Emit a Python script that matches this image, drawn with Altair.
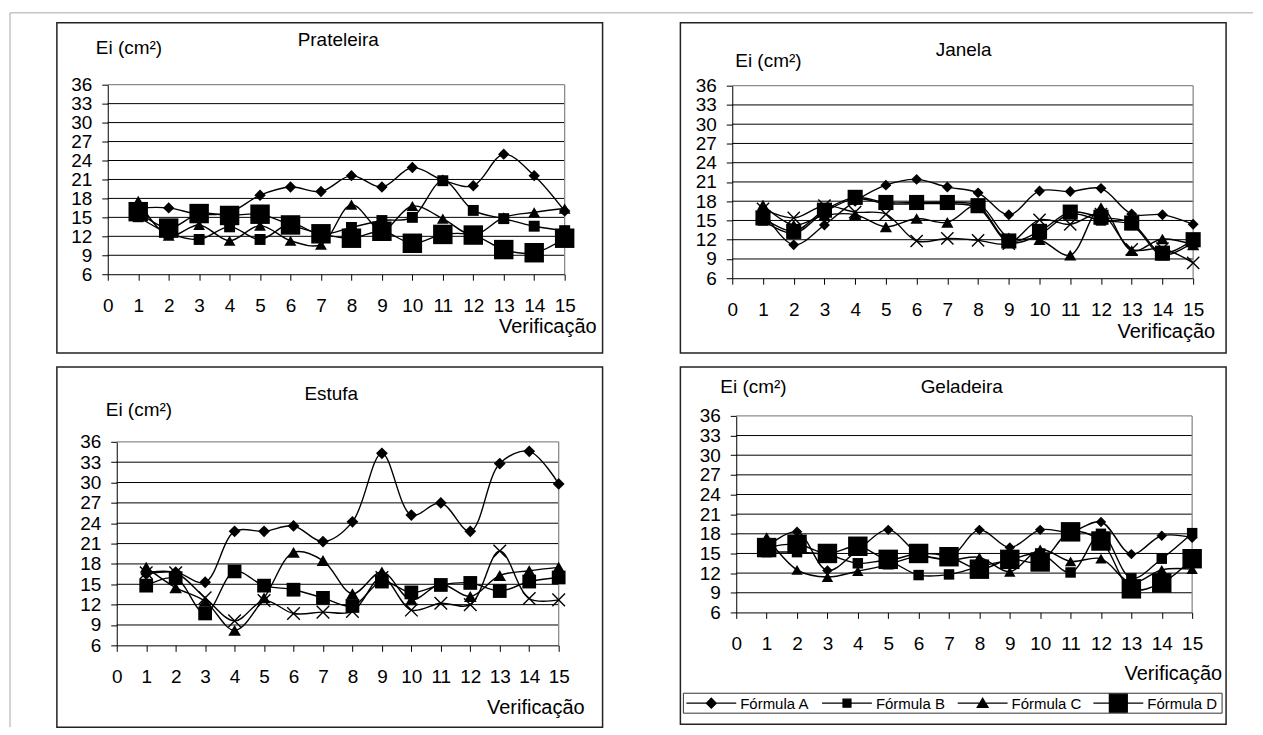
import altair as alt
import pandas as pd

FONT = "Liberation Sans"

# ---------------- data ----------------
verificacoes = list(range(1, 16))
x_ticks = list(range(0, 16))
y_ticks = list(range(6, 37, 3))
grid_levels = list(range(9, 34, 3))
formulas = ["Fórmula A", "Fórmula B", "Fórmula C", "Fórmula D"]
panel_titles = ["Prateleira", "Janela", "Estufa", "Geladeira"]
y_title = "Ei (cm²)"
x_title = "Verificação"

prateleira_A = [16.5, 16.5, 15.5, 15.8, 18.5, 19.8, 19.1, 21.6, 19.8, 22.9, 20.9, 20.0, 25.0, 21.6, 16.0]
prateleira_B = [15.1, 12.5, 11.5, 13.5, 11.5, 14.0, 12.3, 13.4, 14.5, 15.0, 20.8, 16.1, 14.8, 13.6, 12.9]
prateleira_C = [17.6, 12.1, 13.8, 11.3, 13.7, 11.3, 10.7, 17.0, 13.0, 16.8, 14.8, 12.2, 15.0, 15.8, 16.4]
prateleira_D = [15.9, 13.3, 15.6, 15.3, 15.5, 13.8, 12.4, 11.7, 12.8, 10.9, 12.3, 12.2, 9.9, 9.4, 11.7]

janela_A = [16.5, 11.2, 14.3, 18.0, 20.5, 21.4, 20.2, 19.3, 15.9, 19.6, 19.5, 20.0, 16.0, 15.9, 14.4]
janela_B = [15.0, 13.0, 16.3, 18.4, 17.6, 17.6, 17.6, 17.0, 11.6, 12.8, 16.0, 15.0, 14.3, 9.6, 11.6]
janela_C = [17.4, 14.3, 15.8, 15.9, 14.0, 15.3, 14.7, 17.4, 12.3, 12.0, 9.6, 17.0, 10.3, 12.1, 11.2]
janela_X = [16.8, 15.4, 17.3, 16.3, 16.0, 11.8, 12.2, 11.9, 11.4, 15.1, 14.4, 16.0, 10.5, 10.6, 8.4]
janela_D = [15.4, 13.3, 16.6, 18.6, 17.8, 17.8, 17.8, 17.3, 11.8, 13.3, 16.3, 15.5, 14.6, 9.9, 12.0]

estufa_A = [16.5, 16.8, 15.3, 22.8, 22.8, 23.6, 21.3, 24.2, 34.3, 25.2, 27.0, 22.8, 32.8, 34.6, 29.8]
estufa_B = [14.8, 15.9, 10.7, 16.9, 14.8, 14.2, 13.0, 11.8, 15.4, 13.8, 14.9, 15.2, 14.0, 15.4, 16.0]
estufa_C = [17.5, 14.5, 12.5, 8.2, 13.0, 19.7, 18.5, 13.6, 16.8, 12.7, 15.0, 13.2, 16.3, 17.0, 17.5]
estufa_X = [16.7, 16.7, 13.0, 9.6, 12.6, 10.7, 10.9, 11.0, 16.0, 11.2, 12.2, 12.0, 19.9, 12.9, 12.7]

geladeira_A = [16.0, 18.3, 12.4, 15.5, 18.6, 15.0, 14.3, 18.6, 15.9, 18.6, 18.3, 19.8, 14.9, 17.7, 17.4]
geladeira_B = [15.2, 15.2, 14.8, 13.5, 13.8, 11.7, 11.8, 13.0, 14.0, 15.0, 12.1, 18.0, 11.2, 14.2, 18.1]
geladeira_C = [17.5, 12.5, 11.4, 12.3, 13.3, 14.6, 14.0, 14.4, 12.2, 15.6, 13.8, 14.2, 10.5, 12.5, 12.6]
geladeira_D = [15.9, 16.4, 15.0, 16.1, 14.1, 15.0, 14.5, 12.6, 14.1, 13.7, 18.3, 16.9, 9.6, 10.5, 14.2]

# ---------------- styles / layout ----------------
SHAPES = {
    "A": "diamond",
    "B": "square",
    "C": "triangle-up",
    "X": "M-1,-1L1,1M-1,1L1,-1",
    "D": "square",
}
LEGEND_PATHS = [
    "M-1,0L1,0M0,-0.2L0.2,0L0,0.2L-0.2,0Z",
    "M-1,0L1,0M-0.16,-0.16L0.16,-0.16L0.16,0.16L-0.16,0.16Z",
    "M-1,0L1,0M0,-0.2L0.22,0.17L-0.22,0.17Z",
    "M-1,0L1,0M-0.36,-0.36L0.36,-0.36L0.36,0.36L-0.36,0.36Z",
]

layouts = [
    dict(w=547, h=331, x0=51, x15=509, y6=252, y36=62, title=(282, 17), ei=(39, 25), ver=(541, 305),
         sizes={"A": 130, "B": 120, "C": 140, "D": 380}),
    dict(w=547, h=331, x0=52, x15=514, y6=256, y36=63, title=(284, 27), ei=(55, 38), ver=(536, 310),
         sizes={"A": 120, "B": 110, "C": 150, "X": 150, "D": 230}),
    dict(w=547, h=361, x0=60, x15=503, y6=279, y36=75, title=(275, 27), ei=(49, 43), ver=(529, 342),
         sizes={"A": 140, "B": 190, "C": 160, "X": 160}),
    dict(w=547, h=358, x0=56, x15=513, y6=246, y36=49, title=(282, 20), ei=(40, 20), ver=(543, 308),
         sizes={"A": 110, "B": 110, "C": 130, "D": 380}),
]
LEG_BOX = (3, 543, 327, 347)
LEG_CENTERS = (31, 439)   # pixel range for first/last legend symbol centre
LEG_SYM = 2500

panel_series = [
    {"A": prateleira_A, "B": prateleira_B, "C": prateleira_C, "D": prateleira_D},
    {"A": janela_A, "B": janela_B, "C": janela_C, "X": janela_X, "D": janela_D},
    {"A": estufa_A, "B": estufa_B, "C": estufa_C, "X": estufa_X},
    {"A": geladeira_A, "B": geladeira_B, "C": geladeira_C, "D": geladeira_D},
]


def text_layer(txt, pos, size, align="center"):
    return alt.Chart(pd.DataFrame({"t": [txt]})).mark_text(
        font=FONT, fontSize=size, align=align, baseline="middle", color="black"
    ).encode(text="t:N", x=alt.value(pos[0]), y=alt.value(pos[1]))


def make_panel(i, legend=False, frame=False):
    lay = layouts[i]
    series = panel_series[i]
    recs = []
    for key, vals in series.items():
        for v, e in zip(verificacoes, vals):
            recs.append({"v": v, "ei": e, "serie": key})
    df = pd.DataFrame(recs)

    xs = alt.Scale(domain=[x_ticks[0], x_ticks[-1]], range=[lay["x0"], lay["x15"]], nice=False, zero=False)
    ys = alt.Scale(domain=[y_ticks[0], y_ticks[-1]], range=[lay["y6"], lay["y36"]], nice=False, zero=False)
    xaxis = alt.Axis(values=x_ticks, title=None, orient="bottom", offset=lay["y6"] - lay["h"], grid=False,
                     tickSize=6, labelPadding=16, labelFontSize=19, labelFont=FONT, labelColor="black",
                     domainColor="black", tickColor="black", labelFlush=False, labelOverlap=False, format="d")
    yaxis = alt.Axis(values=y_ticks, title=None, orient="left", offset=-lay["x0"], grid=False,
                     tickSize=6, labelPadding=10, labelFontSize=19, labelFont=FONT, labelColor="black",
                     domainColor="black", tickColor="black", labelFlush=False, labelOverlap=False, format="d")

    def X(f):
        return alt.X(f, type="quantitative", scale=xs, axis=xaxis)

    def Y(f):
        return alt.Y(f, type="quantitative", scale=ys, axis=yaxis)

    grid_df = pd.DataFrame({"g": grid_levels, "a": x_ticks[0], "b": x_ticks[-1]})
    grid = alt.Chart(grid_df).mark_rule(color="black", strokeWidth=1).encode(
        x=X("a"), x2=alt.X2("b"), y=Y("g"))

    border_df = pd.DataFrame({
        "a": [x_ticks[0], x_ticks[-1]], "b": [x_ticks[-1], x_ticks[-1]],
        "c": [y_ticks[-1], y_ticks[0]], "d": [y_ticks[-1], y_ticks[-1]],
    })
    border = alt.Chart(border_df).mark_rule(color="#8c8c8c", strokeWidth=1.3).encode(
        x=X("a"), x2=alt.X2("b"), y=Y("c"), y2=alt.Y2("d"))

    lines = alt.Chart(df).mark_line(interpolate="catmull-rom", color="black", strokeWidth=1.4).encode(
        x=X("v"), y=Y("ei"), detail="serie:N")

    one = pd.DataFrame({"k": [0]})
    layers = []
    if frame:
        layers.append(alt.Chart(one).mark_rule(color="#a8a8a8", strokeWidth=1).encode(
            x=alt.value(-47), x2=alt.value(1199), y=alt.value(-10)))
        layers.append(alt.Chart(one).mark_rule(color="#a8a8a8", strokeWidth=1).encode(
            x=alt.value(-47), y=alt.value(-10), y2=alt.value(706)))
    layers += [grid, border, lines]

    for key in ["A", "B", "C", "X", "D"]:
        if key not in series:
            continue
        if key == "X":
            mk = alt.Chart(df).transform_filter(alt.datum.serie == key).mark_point(
                shape=SHAPES[key], size=lay["sizes"][key], filled=False, stroke="black",
                strokeWidth=1.4, opacity=1)
        else:
            mk = alt.Chart(df).transform_filter(alt.datum.serie == key).mark_point(
                shape=SHAPES[key], size=lay["sizes"][key], filled=True, color="black", opacity=1)
        layers.append(mk.encode(x=X("v"), y=Y("ei")))

    layers.append(text_layer(panel_titles[i], lay["title"], 19))
    layers.append(text_layer(y_title, lay["ei"], 19, align="left"))
    layers.append(text_layer(x_title, lay["ver"], 20, align="right"))

    if legend:
        bx0, bx1, by0, by1 = LEG_BOX
        layers.append(alt.Chart(one).mark_rect(fill="white", stroke="#333333", strokeWidth=1).encode(
            x=alt.value(bx0), x2=alt.value(bx1), y=alt.value(by0), y2=alt.value(by1)))

    main = alt.layer(*layers)
    if not legend:
        return main.properties(width=lay["w"], height=lay["h"])

    bx0, bx1, by0, by1 = LEG_BOX
    cy = (by0 + by1) / 2
    leg_df = pd.DataFrame({"serie": formulas, "k": list(range(len(formulas)))})
    kx = alt.X("k:Q", scale=alt.Scale(domain=[0, len(formulas) - 1], range=list(LEG_CENTERS), nice=False, zero=False),
               axis=None)
    leg_sym = alt.Chart(leg_df).mark_point(
        filled=False, fill="black", fillOpacity=1, stroke="black", strokeWidth=1.2, opacity=1, size=LEG_SYM
    ).encode(
        x=kx, y=alt.value(cy),
        shape=alt.Shape("serie:N", scale=alt.Scale(domain=formulas, range=LEGEND_PATHS), legend=None),
    )
    leg_txt = alt.Chart(leg_df).mark_text(
        font=FONT, fontSize=15, align="left", baseline="middle", color="black", dx=29
    ).encode(x=kx, y=alt.value(cy + 0.5), text="serie:N")
    legend_layer = alt.layer(leg_sym, leg_txt)
    return alt.layer(main, legend_layer).resolve_scale(x="independent").properties(
        width=lay["w"], height=lay["h"])


p1 = make_panel(0, frame=True)
p2 = make_panel(1)
p3 = make_panel(2)
p4 = make_panel(3, legend=True)

chart = alt.concat(p1, p2, p3, p4, columns=2, spacing={"row": 14, "column": 78}, bounds="flush").properties(
    padding={"left": 0, "top": 2, "right": 0, "bottom": 0}
).configure(font=FONT, background="white").configure_view(stroke="#222222", strokeWidth=1.5)

chart.save("out.html", embed_options={"renderer": "svg", "actions": False})
